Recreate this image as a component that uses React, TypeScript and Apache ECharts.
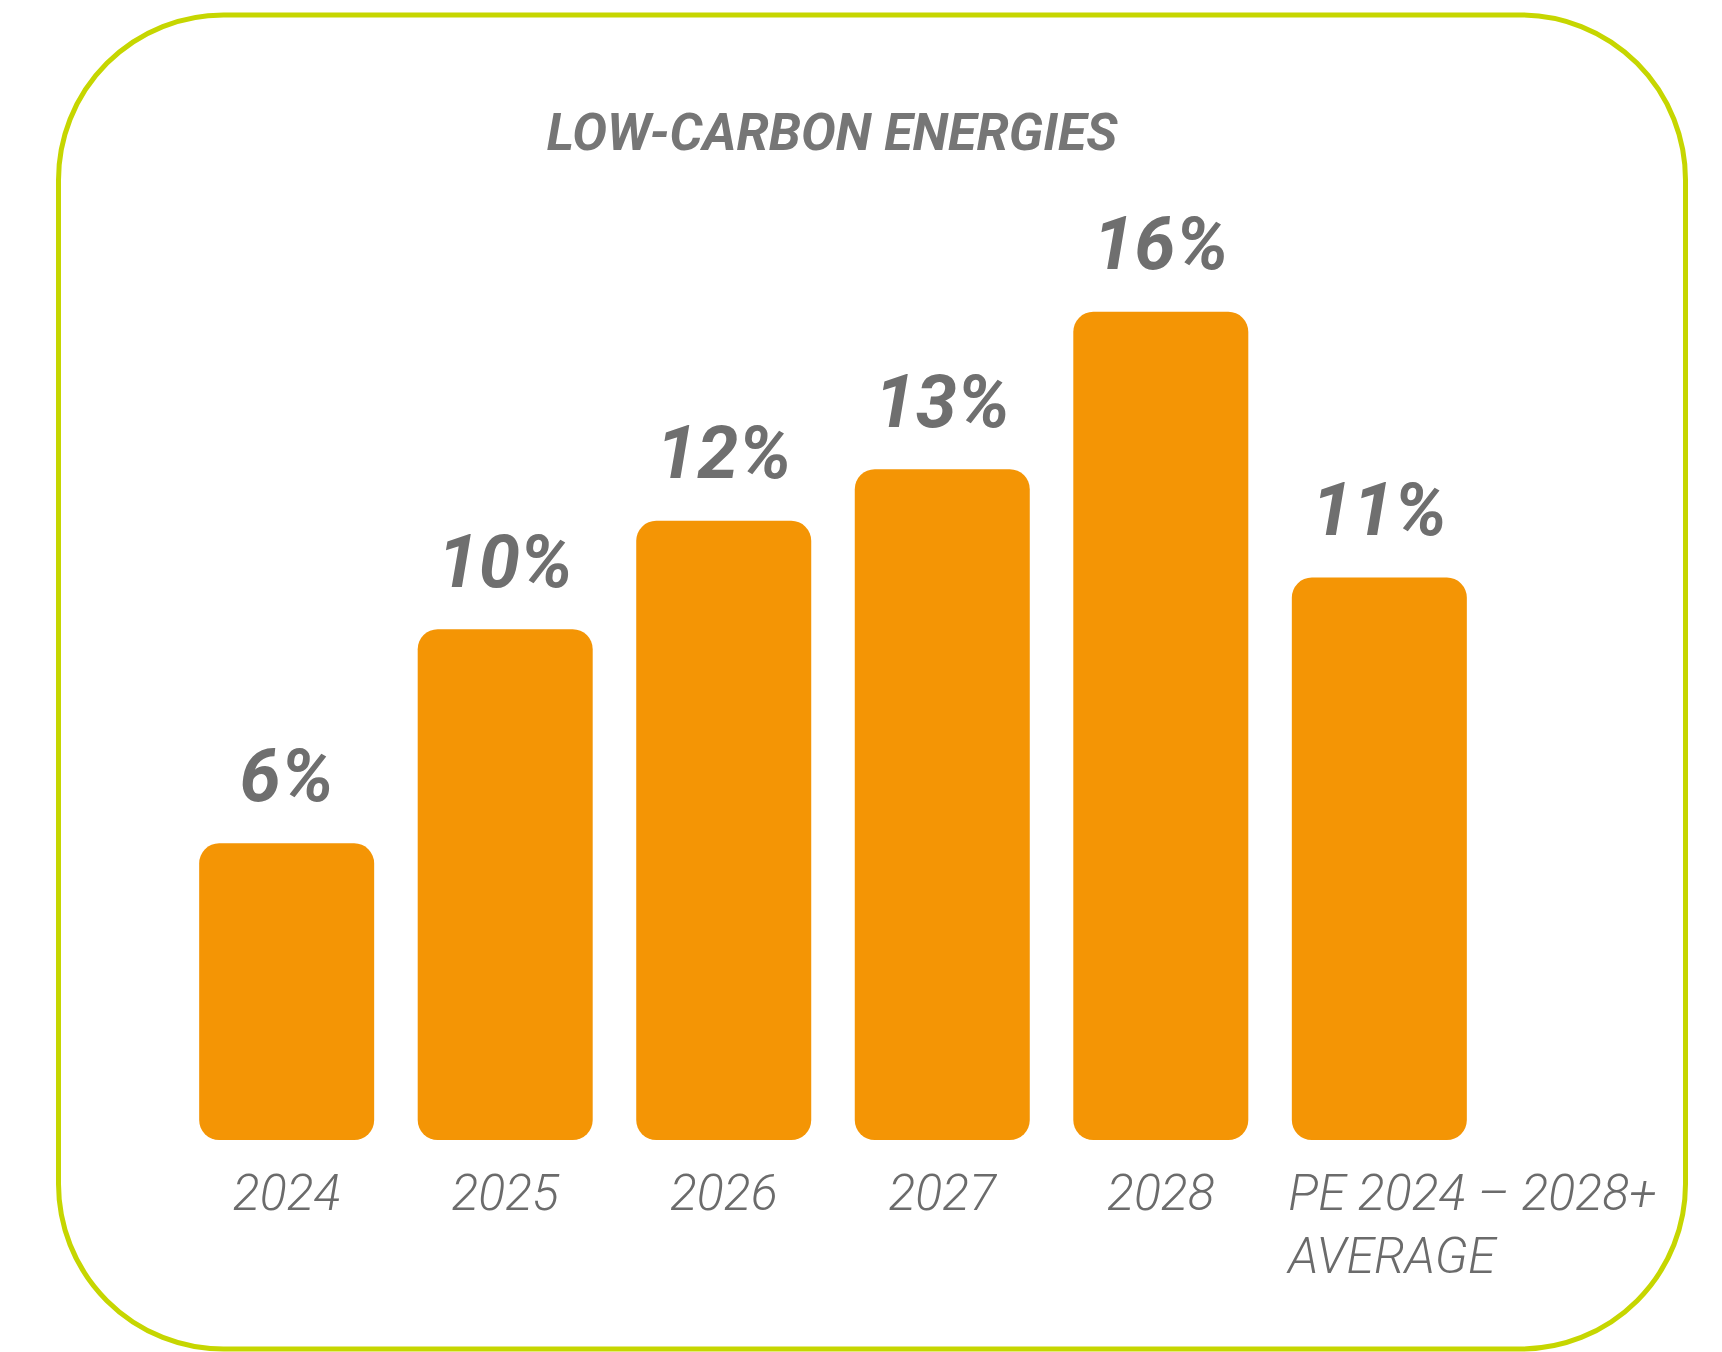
import React, { useEffect, useRef } from "react";
import * as echarts from "echarts";

const categories = ["2024", "2025", "2026", "2027", "2028", "PE 2024 – 2028+\nAVERAGE"];
const values = [5.75, 9.9, 12.0, 13.0, 16.05, 10.9];
const titleText = "LOW-CARBON ENERGIES";

const BOLD_FONT = "Roboto, 'Liberation Sans', Arial, sans-serif";
const LIGHT_FONT = "Roboto, 'Liberation Sans', Arial, sans-serif";

export default function App() {
  const ref = useRef<HTMLDivElement>(null);
  useEffect(() => {
    if (!ref.current) return;
    const chart = echarts.init(ref.current, null, { renderer: "svg" });
    const xData = categories.map((c, i) =>
      i === categories.length - 1
        ? { value: c, textStyle: { align: "left", padding: [0, 0, 0, -91] } }
        : c
    );
    chart.setOption({
      animation: false,
      backgroundColor: "#ffffff",
      title: {
        text: titleText,
        left: 827,
        top: 101,
        textAlign: "center",
        textStyle: {
          fontFamily: BOLD_FONT,
          fontSize: 52,
          fontStyle: "italic",
          fontWeight: "bold",
          color: "#767676",
          lineHeight: 52,
        },
      },
      graphic: [
        {
          type: "rect",
          shape: { x: 58.5, y: 15, width: 1627, height: 1334, r: 165 },
          style: { fill: "none", stroke: "#c6d600", lineWidth: 5 },
          silent: true,
          z: -10,
        },
      ],
      grid: { left: 177.4, right: 233.4, top: 108, bottom: 212, containLabel: false },
      xAxis: {
        type: "category",
        data: xData,
        axisLine: { show: false },
        axisTick: { show: false },
        axisLabel: {
          interval: 0,
          margin: 21,
          fontFamily: LIGHT_FONT,
          fontSize: 50,
          lineHeight: 63,
          fontStyle: "italic",
          fontWeight: 300,
          color: "#6b6b6b",
        },
      },
      yAxis: {
        type: "value",
        min: 0,
        max: 20,
        show: false,
        splitLine: { show: false },
      },
      series: [
        {
          type: "bar",
          data: values,
          barWidth: 175,
          itemStyle: { color: "#f49505", borderRadius: 20 },
          label: {
            show: true,
            position: "top",
            distance: 31,
            formatter: (p: any) => Math.round(p.value) + "%",
            fontFamily: BOLD_FONT,
            fontSize: 74,
            lineHeight: 74,
            fontStyle: "italic",
            fontWeight: "bold",
            color: "#6f6f6f",
          },
        },
      ],
    });
    return () => chart.dispose();
  }, []);
  return (
    <div
      ref={ref}
      style={{ position: "fixed", left: 0, top: 0, width: 1722, height: 1352 }}
    />
  );
}
